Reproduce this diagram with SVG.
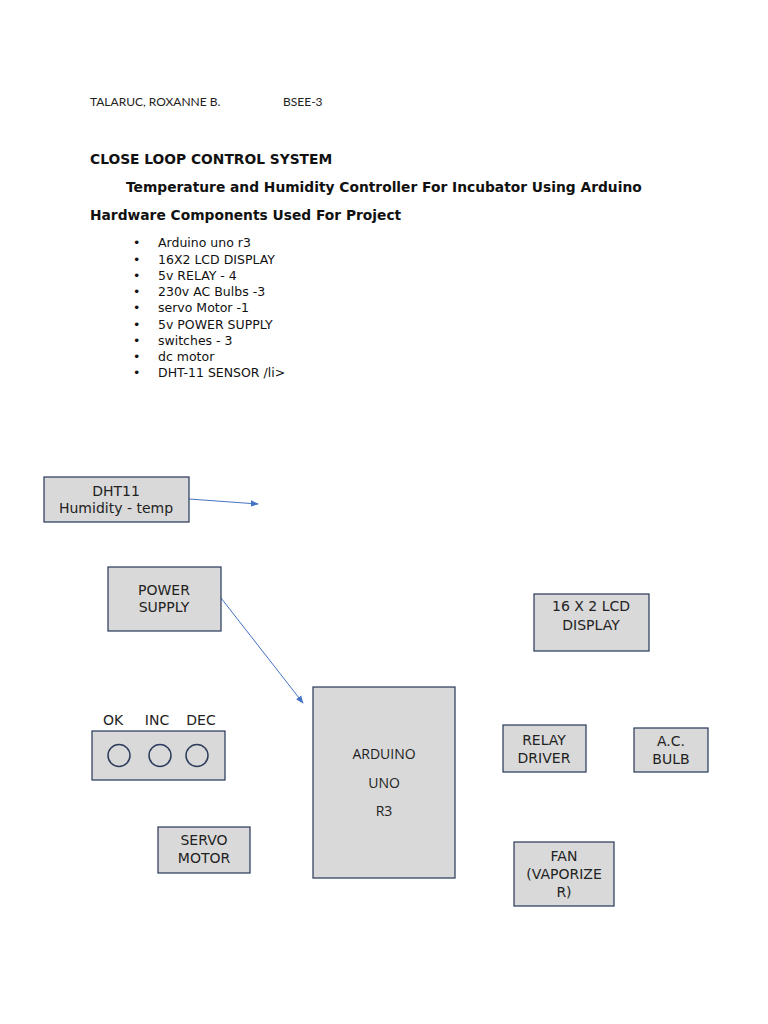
<svg xmlns="http://www.w3.org/2000/svg" width="768" height="1024" viewBox="0 0 768 1024">
<style>
.hdr{font-family:Lato,"Open Sans",sans-serif;font-size:12px;fill:#222}
.ttl{font-family:"DejaVu Sans",sans-serif;font-weight:bold;font-size:13.8px;fill:#111}
.li{font-family:"DejaVu Sans",sans-serif;font-size:12.5px;fill:#111}
.box{fill:#d9d9d9;stroke:#263657;stroke-width:1.2}
.lbl{font-family:"DejaVu Sans",sans-serif;font-size:14px;fill:#222;text-anchor:middle}
.lbl2{font-family:"Open Sans",sans-serif;font-size:14px;fill:#222;text-anchor:middle}
.btn{fill:none;stroke:#2f3e5e;stroke-width:1.5}
.conn{stroke:#4472c4;stroke-width:1;fill:none;marker-end:url(#ah)}
</style>
<defs>
<marker id="ah" viewBox="0 0 10 10" refX="9" refY="5" markerWidth="8" markerHeight="8" markerUnits="userSpaceOnUse" orient="auto">
<path d="M0,1 L10,5 L0,9 Z" fill="#4472c4"/>
</marker>
</defs>
<rect width="768" height="1024" fill="#fff"/>
<text class="hdr" x="90" y="106">TALARUC, ROXANNE B.</text>
<text class="hdr" x="283" y="106">BSEE-3</text>
<text class="ttl" x="90" y="164">CLOSE LOOP CONTROL SYSTEM</text>
<text class="ttl" x="126" y="192">Temperature and Humidity Controller For Incubator Using Arduino</text>
<text class="ttl" x="90" y="220">Hardware Components Used For Project</text>
<g class="li">
<text x="133" y="247">•</text><text x="158" y="247">Arduino uno r3</text>
<text x="133" y="263.5">•</text><text x="158" y="263.5">16X2 LCD DISPLAY</text>
<text x="133" y="279.5">•</text><text x="158" y="279.5">5v RELAY - 4</text>
<text x="133" y="296">•</text><text x="158" y="296">230v AC Bulbs -3</text>
<text x="133" y="312">•</text><text x="158" y="312">servo Motor -1</text>
<text x="133" y="328.5">•</text><text x="158" y="328.5">5v POWER SUPPLY</text>
<text x="133" y="344.5">•</text><text x="158" y="344.5">switches - 3</text>
<text x="133" y="361">•</text><text x="158" y="361">dc motor</text>
<text x="133" y="377">•</text><text x="158" y="377">DHT-11 SENSOR /li&gt;</text>
</g>
<g id="connectors">
<line class="conn" x1="189" y1="499" x2="258" y2="504"/>
<line class="conn" x1="221" y1="598" x2="303" y2="703"/>
</g>
<g id="dht11">
<rect class="box" x="44" y="477" width="145" height="45"/>
<text class="lbl" x="116" y="496">DHT11</text>
<text class="lbl" x="116" y="513">Humidity - temp</text>
</g>
<g id="power">
<rect class="box" x="108" y="567" width="113" height="64"/>
<text class="lbl" x="164" y="595">POWER</text>
<text class="lbl" x="164" y="612">SUPPLY</text>
</g>
<g id="lcd">
<rect class="box" x="534" y="594" width="115" height="57"/>
<text class="lbl" x="591" y="611">16 X 2 LCD</text>
<text class="lbl" x="591" y="630">DISPLAY</text>
</g>
<g id="switches">
<text class="lbl" x="113" y="725">OK</text>
<text class="lbl" x="157" y="725">INC</text>
<text class="lbl" x="201" y="725">DEC</text>
<rect class="box" x="92" y="731" width="133" height="49"/>
<circle class="btn" cx="119" cy="755.5" r="11"/>
<circle class="btn" cx="160" cy="755.5" r="11"/>
<circle class="btn" cx="197" cy="755.5" r="11"/>
</g>
<g id="arduino">
<rect class="box" x="313" y="687" width="142" height="191"/>
<text class="lbl2" x="384" y="759">ARDUINO</text>
<text class="lbl2" x="384" y="788">UNO</text>
<text class="lbl2" x="384" y="816">R3</text>
</g>
<g id="relay">
<rect class="box" x="503" y="725" width="83" height="47"/>
<text class="lbl" x="544" y="745">RELAY</text>
<text class="lbl" x="544" y="763">DRIVER</text>
</g>
<g id="acbulb">
<rect class="box" x="634" y="728" width="74" height="44"/>
<text class="lbl" x="671" y="746">A.C.</text>
<text class="lbl" x="671" y="764">BULB</text>
</g>
<g id="servo">
<rect class="box" x="158" y="827" width="92" height="46"/>
<text class="lbl" x="204" y="845">SERVO</text>
<text class="lbl" x="204" y="863">MOTOR</text>
</g>
<g id="fan">
<rect class="box" x="514" y="842" width="100" height="64"/>
<text class="lbl" x="564" y="861">FAN</text>
<text class="lbl" x="564" y="879">(VAPORIZE</text>
<text class="lbl" x="564" y="897">R)</text>
</g>
</svg>
